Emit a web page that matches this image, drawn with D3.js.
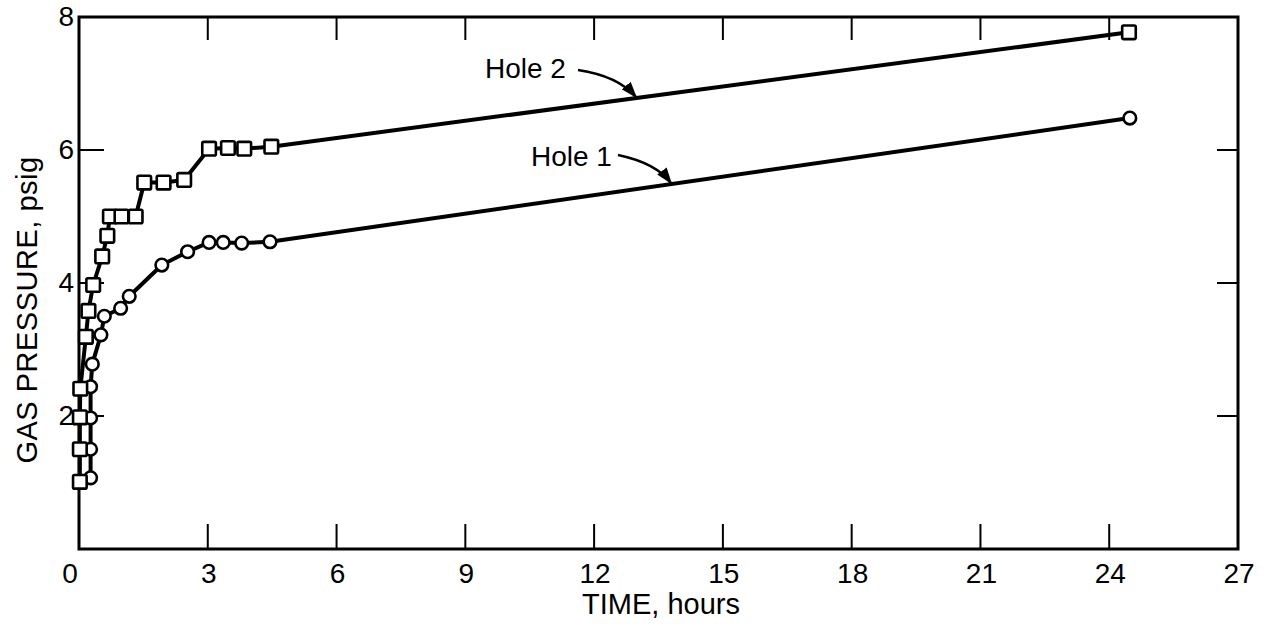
<!DOCTYPE html>
<html>
<head>
<meta charset="utf-8">
<script src="https://cdn.jsdelivr.net/npm/d3@7"></script>
<style>
  html, body { margin: 0; padding: 0; background: #fff; }
  svg { display: block; }
  text { font-family: "Liberation Sans", Arial, sans-serif; fill: #000; }
</style>
</head>
<body>
<svg id="chart" width="1276" height="630"></svg>
<script>
// ---- data ----
const hole2Time     = [0.02, 0.02, 0.02, 0.03, 0.16, 0.22, 0.33, 0.54, 0.66, 0.72, 0.99, 1.32, 1.52, 1.97, 2.45, 3.03, 3.47, 3.85, 4.48, 24.46];
const hole2Pressure = [1.01, 1.50, 1.98, 2.41, 3.19, 3.58, 3.97, 4.40, 4.71, 5.00, 5.00, 5.00, 5.51, 5.51, 5.55, 6.02, 6.03, 6.02, 6.05, 7.77];
const hole1Time     = [0.27, 0.27, 0.27, 0.27, 0.31, 0.51, 0.59, 0.97, 1.17, 1.93, 2.53, 3.03, 3.36, 3.79, 4.45, 24.48];
const hole1Pressure = [1.07, 1.50, 1.97, 2.44, 2.78, 3.22, 3.50, 3.62, 3.80, 4.27, 4.47, 4.61, 4.61, 4.60, 4.62, 6.48];
const xTicks = [0, 3, 6, 9, 12, 15, 18, 21, 24, 27];
const yTicks = [2, 4, 6, 8];
const xTitle = "TIME, hours";
const yTitle = "GAS PRESSURE, psig";
const labels = ["Hole 2", "Hole 1"];

// ---- layout ----
const svg = d3.select("#chart");
const L = 79, R = 1238, T = 17, B = 549;
const x = d3.scaleLinear().domain([0, 27]).range([L, R]);
const y = d3.scaleLinear().domain([0, 8]).range([B, T]);

// frame
svg.append("rect").attr("x", L).attr("y", T).attr("width", R - L).attr("height", B - T)
  .attr("fill", "none").attr("stroke", "#000").attr("stroke-width", 3);

// inward ticks
const innerX = xTicks.filter(d => d > 0 && d < 27);
const innerY = yTicks.filter(d => d > 0 && d < 8);
const tk = svg.append("g").attr("stroke", "#000").attr("stroke-width", 2);
innerX.forEach(d => {
  tk.append("line").attr("x1", x(d)).attr("x2", x(d)).attr("y1", B).attr("y2", B - 25);
  tk.append("line").attr("x1", x(d)).attr("x2", x(d)).attr("y1", T).attr("y2", T + 23);
});
innerY.forEach(d => {
  tk.append("line").attr("x1", L).attr("x2", L + 25).attr("y1", y(d)).attr("y2", y(d));
  tk.append("line").attr("x1", R).attr("x2", R - 21).attr("y1", y(d)).attr("y2", y(d));
});

// tick labels
svg.append("g").selectAll("text").data(xTicks).join("text")
  .attr("x", d => x(d) + (d === 0 ? -9 : 1))
  .attr("y", 583)
  .attr("text-anchor", "middle")
  .attr("font-size", 28)
  .text(d => d);
svg.append("g").selectAll("text").data(yTicks).join("text")
  .attr("x", 74)
  .attr("y", d => y(d) + 9)
  .attr("text-anchor", "end")
  .attr("font-size", 28)
  .text(d => d);

// axis titles
svg.append("text").attr("x", 661).attr("y", 614).attr("text-anchor", "middle")
  .attr("font-size", 29).text(xTitle);
svg.append("text").attr("transform", "translate(37,310) rotate(-90)").attr("text-anchor", "middle")
  .attr("font-size", 29).attr("letter-spacing", 0.5).text(yTitle);

// series
const line = d3.line().x(d => x(d[0])).y(d => y(d[1]));
const h2 = hole2Time.map((t, i) => [t, hole2Pressure[i]]);
const h1 = hole1Time.map((t, i) => [t, hole1Pressure[i]]);

svg.append("path").datum(h1).attr("d", line).attr("fill", "none")
  .attr("stroke", "#000").attr("stroke-width", 4).attr("stroke-linejoin", "round");
svg.append("path").datum(h2).attr("d", line).attr("fill", "none")
  .attr("stroke", "#000").attr("stroke-width", 4).attr("stroke-linejoin", "round");

svg.append("g").selectAll("circle").data(h1).join("circle")
  .attr("cx", d => x(d[0])).attr("cy", d => y(d[1])).attr("r", 6.3)
  .attr("fill", "#fff").attr("stroke", "#000").attr("stroke-width", 2.6);
svg.append("g").selectAll("rect").data(h2).join("rect")
  .attr("x", d => x(d[0]) - 6.8).attr("y", d => y(d[1]) - 6.8)
  .attr("width", 13.6).attr("height", 13.6).attr("rx", 1.5)
  .attr("fill", "#fff").attr("stroke", "#000").attr("stroke-width", 2.6);

// annotations
const defs = svg.append("defs");
defs.append("marker").attr("id", "ah").attr("viewBox", "0 0 10 10")
  .attr("refX", 9).attr("refY", 5).attr("markerWidth", 7).attr("markerHeight", 7)
  .attr("markerUnits", "strokeWidth").attr("orient", "auto")
  .append("path").attr("d", "M0,1.5 L10,5 L0,8.5 Z").attr("fill", "#000");

svg.append("text").attr("x", 485).attr("y", 78).attr("font-size", 28).text(labels[0]);
svg.append("text").attr("x", 531).attr("y", 166).attr("font-size", 28).text(labels[1]);

svg.append("path").attr("d", "M578,70 Q618,76 636,97").attr("fill", "none")
  .attr("stroke", "#000").attr("stroke-width", 2.4).attr("marker-end", "url(#ah)");
svg.append("path").attr("d", "M618,155 Q656,163 671,183").attr("fill", "none")
  .attr("stroke", "#000").attr("stroke-width", 2.4).attr("marker-end", "url(#ah)");
</script>
</body>
</html>
